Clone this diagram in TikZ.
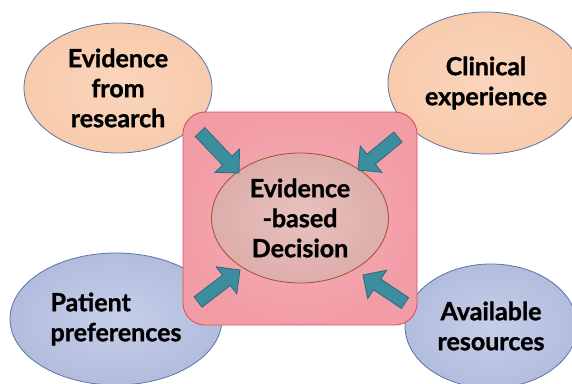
\documentclass[tikz,border=0pt]{standalone}
\usepackage{fontspec}
\setmainfont{Lato}[BoldFeatures={FakeBold=1.2}]
\usetikzlibrary{shapes.geometric,calc}
\definecolor{peachout}{HTML}{F8CBAC}
\definecolor{peachin}{HTML}{FAD5BD}
\definecolor{blueout}{HTML}{B2BDDD}
\definecolor{bluein}{HTML}{C6CEE9}
\definecolor{edgeblue}{HTML}{5B73A6}
\definecolor{boxout}{HTML}{F29CA6}
\definecolor{boxin}{HTML}{F6B1B8}
\definecolor{boxedge}{HTML}{D9515E}
\definecolor{midout}{HTML}{DDADAA}
\definecolor{midin}{HTML}{E7C2BF}
\definecolor{midedge}{HTML}{A0522D}
\definecolor{arrfill}{HTML}{3C8E9E}
\definecolor{arredge}{HTML}{2B6C7A}
\newcommand{\blockarr}[2]{%
  \coordinate (bh) at ($(#2)!17pt!(#1)$);
  \draw[arrowbody] ($(#1)!6.5pt!90:(#2)$) -- ($(bh)!6.5pt!90:(#2)$) -- ($(bh)!17pt!90:(#2)$) -- (#2)
    -- ($(bh)!17pt!-90:(#2)$) -- ($(bh)!6.5pt!-90:(#2)$) -- ($(#1)!6.5pt!-90:(#2)$) -- cycle;}
\begin{document}
\begin{tikzpicture}[x=1pt,y=-1pt,
  lbl/.style={font=\bfseries\fontsize{25}{30}\selectfont, text=black},
  outer/.style={ellipse, draw=edgeblue, line width=0.8pt, inner sep=0pt, lbl},
  peachy/.style={shading=radial, inner color=peachin, outer color=peachout},
  bluey/.style={shading=radial, inner color=bluein, outer color=blueout},
  arrowbody/.style={fill=arrfill, draw=arredge, line width=0.8pt, line join=miter}]
\useasboundingbox (0,0) rectangle (572,383);
\node[outer, peachy, minimum width=188pt, minimum height=130pt, align=center] (er) at (118,88) {Evidence\\from\\research};
\node[outer, peachy, minimum width=196pt, minimum height=142pt, align=center] (ce) at (486,83) {Clinical\\experience};
\node[outer, bluey, minimum width=212pt, minimum height=132pt, align=left] (pp) at (116,319) {Patient\\preferences};
\node[outer, bluey, minimum width=172pt, minimum height=124pt, align=center] (ar) at (491,326) {Available\\resources};
\node[rectangle, rounded corners=22pt, draw=boxedge, line width=0.9pt, shading=radial, inner color=boxin, outer color=boxout, minimum width=234pt, minimum height=213pt] (box) at (300,218.5) {};
\node[ellipse, draw=midedge, line width=0.8pt, inner sep=0pt, shading=radial, inner color=midin, outer color=midout, minimum width=177pt, minimum height=130pt, lbl, align=center] (ebd) at (300,218) {Evidence\\-based\\Decision};
\coordinate (t1) at (200,132); \coordinate (p1) at (239,173);
\coordinate (t2) at (398,137); \coordinate (p2) at (358,170);
\coordinate (t3) at (198,302); \coordinate (p3) at (240,270);
\coordinate (t4) at (405,303); \coordinate (p4) at (363,275);
\blockarr{t1}{p1}
\blockarr{t2}{p2}
\blockarr{t3}{p3}
\blockarr{t4}{p4}
\end{tikzpicture}
\end{document}
